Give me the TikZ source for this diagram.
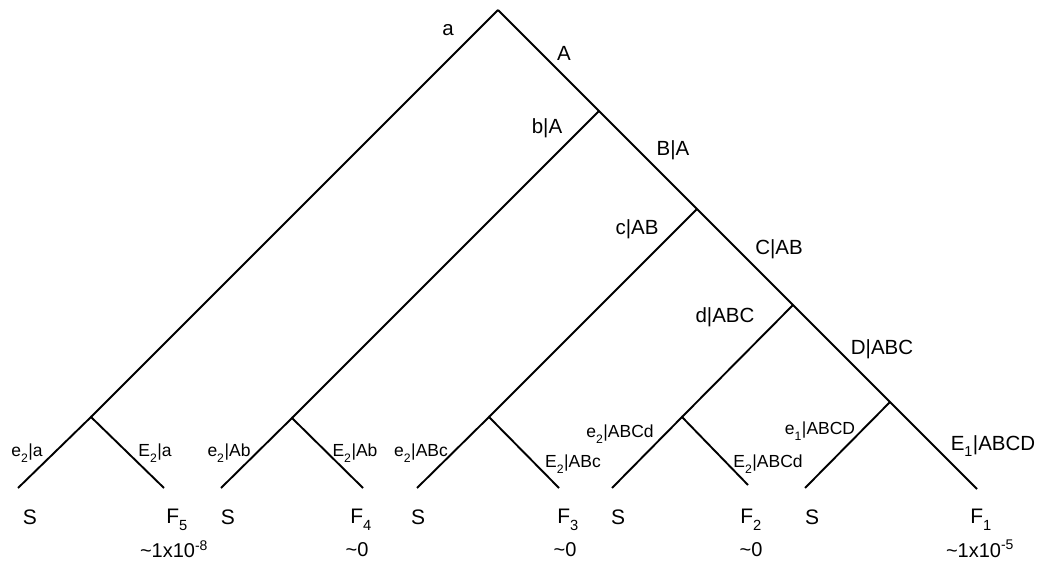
\documentclass[tikz,border=0pt]{standalone}
\usepackage{fontspec}
\setmainfont{Liberation Sans}
% subscript set a little lower than the default
\newcommand\lowsub[1]{\raisebox{-0.18em}{\textsubscript{#1}}}
\begin{document}
\begin{tikzpicture}[x=1pt,y=-1pt,
  branch/.style={line width=1.9pt,line cap=butt},
  lab/.style={inner sep=0pt,font=\fontsize{20.5}{24}\selectfont},
  leaflab/.style={inner sep=0pt,font=\fontsize{17.5}{20}\selectfont},
  outcome/.style={inner sep=0pt,font=\fontsize{21}{24}\selectfont},
  prob/.style={inner sep=0pt,font=\fontsize{20}{23}\selectfont}]
\useasboundingbox (0,0) rectangle (1041,564);
% junctions along the main spine
\coordinate (R) at (498,10);
\coordinate (B) at (599,111);
\coordinate (C) at (697,209);
\coordinate (D) at (793,305);
\coordinate (E) at (890,402);
\coordinate (E1) at (977,489);
% secondary junctions
\coordinate (Ja) at (91,417);
\coordinate (Jb) at (292,418);
\coordinate (Jc) at (489,417);
\coordinate (Jd) at (682,417);
% leaf ends
\coordinate (La1) at (18,488);  \coordinate (La2) at (164,488);
\coordinate (Lb1) at (221,488); \coordinate (Lb2) at (363,488);
\coordinate (Lc1) at (417,488); \coordinate (Lc2) at (559,488);
\coordinate (Ld1) at (612,488); \coordinate (Ld2) at (748,485);
\coordinate (Le1) at (805,488);
% spine
\draw[branch] (R) -- (B) -- (C) -- (D) -- (E) -- (E1);
% side branches
\draw[branch] (R) -- (Ja);
\draw[branch] (B) -- (Jb);
\draw[branch] (C) -- (Jc);
\draw[branch] (D) -- (Jd);
\draw[branch] (E) -- (Le1);
% leaves
\draw[branch] (La1) -- (Ja) -- (La2);
\draw[branch] (Lb1) -- (Jb) -- (Lb2);
\draw[branch] (Lc1) -- (Jc) -- (Lc2);
\draw[branch] (Ld1) -- (Jd) -- (Ld2);
% branch labels
\node[lab] (ta) at (448,30) {a};
\node[lab] (tA) at (564,53) {A};
\node[lab] (tbA) at (547,128) {b|A};
\node[lab] (tBA) at (673,150) {B|A};
\node[lab] (tcAB) at (637,229) {c|AB};
\node[lab] (tCAB) at (779,249) {C|AB};
\node[lab] (tdABC) at (725,317) {d|ABC};
\node[lab] (tDABC) at (882,349) {D|ABC};
\node[lab] (tE1) at (993,446) {E\lowsub{1}|ABCD};
% leaf branch labels
\node[leaflab] (te2a) at (27,453) {e\lowsub{2}|a};
\node[leaflab] (tE2a) at (155,453) {E\lowsub{2}|a};
\node[leaflab] (te2Ab) at (229,453) {e\lowsub{2}|Ab};
\node[leaflab] (tE2Ab) at (355,453) {E\lowsub{2}|Ab};
\node[leaflab] (te2ABc) at (421,453) {e\lowsub{2}|ABc};
\node[leaflab] (tE2ABc) at (573,464) {E\lowsub{2}|ABc};
\node[leaflab] (te2ABCd) at (620,434) {e\lowsub{2}|ABCd};
\node[leaflab] (tE2ABCd) at (768,464) {E\lowsub{2}|ABCd};
\node[leaflab] (te1ABCD) at (820,431) {e\lowsub{1}|ABCD};
% outcomes
\node[outcome] (S1) at (30,517) {S};
\node[outcome] (S2) at (228,517) {S};
\node[outcome] (S3) at (418,517) {S};
\node[outcome] (S4) at (618,517) {S};
\node[outcome] (S5) at (812,517) {S};
\node[outcome] (F5) at (177,520) {F\lowsub{5}};
\node[outcome] (F4) at (361,520) {F\lowsub{4}};
\node[outcome] (F3) at (568,520) {F\lowsub{3}};
\node[outcome] (F2) at (751,520) {F\lowsub{2}};
\node[outcome] (F1) at (981,520) {F\lowsub{1}};
% outcome frequencies
\node[prob] (p5) at (174,549) {\textasciitilde1x10\textsuperscript{-8}};
\node[prob] (p4) at (357,550) {\textasciitilde0};
\node[prob] (p3) at (565,550) {\textasciitilde0};
\node[prob] (p2) at (751,550) {\textasciitilde0};
\node[prob] (p1) at (980,549) {\textasciitilde1x10\textsuperscript{-5}};
\end{tikzpicture}
\end{document}
